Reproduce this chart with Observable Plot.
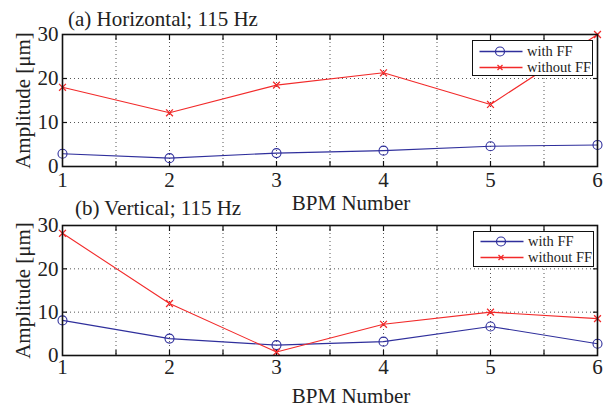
<!DOCTYPE html>
<html>
<head>
<meta charset="utf-8">
<script src="https://cdn.jsdelivr.net/npm/d3@7"></script>
<script src="https://cdn.jsdelivr.net/npm/@observablehq/plot@0.6"></script>
<style>
  html, body { margin: 0; padding: 0; background: #fff; }
  #root { position: relative; width: 607px; height: 408px; overflow: hidden; font-family: "Liberation Serif", "Times New Roman", serif; color: #222; }
  .abs { position: absolute; white-space: nowrap; }
  .title { font-size: 21px; line-height: 1; }
  .xlab { font-size: 21px; line-height: 1; }
  .legend { position: absolute; background: #fff; border: 1.5px solid #111; box-sizing: border-box; font-size: 14.5px; }
  .legend .row { position: absolute; left: 0; height: 13px; display: flex; align-items: center; }
  .legend .row span { display: inline-block; height: 13px; line-height: 13px; white-space: nowrap; }
  .legend svg { display: block; }
</style>
</head>
<body>
<div id="root"></div>
<script>
// ---- data ----
const bpm = [1, 2, 3, 4, 5, 6];
const seriesNames = ["with FF", "without FF"];
const seriesColors = ["#2f2f9c", "#f22a2a"];
const hWithFF = [2.9, 1.9, 3.05, 3.6, 4.6, 4.9];
const hWithoutFF = [18.0, 12.2, 18.5, 21.3, 14.1, 30.0];
const vWithFF = [8.1, 3.9, 2.4, 3.2, 6.7, 2.7];
const vWithoutFF = [28.2, 12.0, 0.8, 7.2, 10.0, 8.5];
const yTicks = [0, 10, 20, 30];
const xTicks = [1, 2, 3, 4, 5, 6];
const xHalfTicks = [1.5, 2, 2.5, 3, 3.5, 4, 4.5, 5, 5.5];
const titles = ["(a) Horizontal; 115 Hz", "(b) Vertical; 115 Hz"];
const xLabel = "BPM Number";
const yLabel = "Amplitude [μm]";

const root = document.getElementById("root");
const serif = "'Liberation Serif', 'Times New Roman', serif";

function panel(withFF, withoutFF, opts) {
  const rows = (vals, name) => bpm.map((b, i) => ({bpm: b, value: vals[i], series: name}));
  const dWith = rows(withFF, seriesNames[0]);
  const dWithout = rows(withoutFF, seriesNames[1]);
  return Plot.plot({
    width: 607,
    height: opts.height,
    marginTop: opts.marginTop,
    marginBottom: opts.marginBottom,
    marginLeft: 62,
    marginRight: 10,
    style: {fontFamily: serif, fontSize: "21px", background: "transparent", color: "#222", overflow: "visible"},
    x: {domain: [1, 6]},
    y: {domain: [0, 30]},
    marks: [
      Plot.gridX(xHalfTicks, {stroke: "#444", strokeOpacity: 0.9, strokeDasharray: "1,3"}),
      Plot.gridY([10, 20], {stroke: "#444", strokeOpacity: 0.9, strokeDasharray: "1,3"}),
      Plot.axisX({anchor: "bottom", ticks: xHalfTicks, tickSize: -5, tickFormat: () => "", label: null, stroke: "#111", strokeWidth: 1.2}),
      Plot.axisX({anchor: "top", ticks: xHalfTicks, tickSize: -5, tickFormat: () => "", label: null, stroke: "#111", strokeWidth: 1.2}),
      Plot.axisY({anchor: "right", ticks: [10, 20], tickSize: -5, tickFormat: () => "", label: null, stroke: "#111", strokeWidth: 1.2}),
      Plot.axisY({anchor: "left", ticks: [10, 20], tickSize: -5, tickFormat: () => "", label: null, stroke: "#111", strokeWidth: 1.2}),
      Plot.axisX({anchor: "bottom", ticks: xTicks, tickFormat: "d", tickSize: 0, tickPadding: opts.xPad, label: null, fontSize: 21}),
      Plot.axisY({anchor: "left", ticks: yTicks, tickFormat: "d", tickSize: 0, tickPadding: 4, label: yLabel, labelAnchor: "center", labelArrow: "none", labelOffset: 47, fontSize: 21}),
      Plot.line(dWith, {x: "bpm", y: "value", stroke: seriesColors[0], strokeWidth: 1.1}),
      Plot.line(dWithout, {x: "bpm", y: "value", stroke: seriesColors[1], strokeWidth: 1.1}),
      Plot.dot(dWith, {x: "bpm", y: "value", r: 4.5, stroke: seriesColors[0], fill: "none", strokeWidth: 1.1}),
      Plot.dot(dWithout, {x: "bpm", y: "value", symbol: "times", r: 3.2, stroke: seriesColors[1], strokeWidth: 1.3}),
      Plot.frame({stroke: "#111", strokeWidth: 1.6})
    ]
  });
}

function place(el, left, top) {
  el.style.position = "absolute";
  el.style.left = left + "px";
  el.style.top = top + "px";
  root.appendChild(el);
  return el;
}

function text(str, cls, left, top, center) {
  const d = document.createElement("div");
  d.className = "abs " + cls;
  d.textContent = str;
  root.appendChild(d);
  d.style.top = top + "px";
  d.style.left = left + "px";
  if (center) d.style.transform = "translateX(-50%)";
  return d;
}

function legend(left, top, rowTops) {
  const box = document.createElement("div");
  box.className = "legend";
  box.style.left = left + "px";
  box.style.top = top + "px";
  box.style.width = "121px";
  box.style.height = "36px";
  seriesNames.forEach((name, i) => {
    const row = document.createElement("div");
    row.className = "row";
    row.style.top = rowTops[i] + "px";
    const ns = "http://www.w3.org/2000/svg";
    const svg = document.createElementNS(ns, "svg");
    svg.setAttribute("width", "54");
    svg.setAttribute("height", "13");
    const line = document.createElementNS(ns, "line");
    line.setAttribute("x1", 6.5); line.setAttribute("x2", 49.5);
    line.setAttribute("y1", 6.5); line.setAttribute("y2", 6.5);
    line.setAttribute("stroke", seriesColors[i]); line.setAttribute("stroke-width", 1.3);
    svg.appendChild(line);
    if (i === 0) {
      const c = document.createElementNS(ns, "circle");
      c.setAttribute("cx", 27); c.setAttribute("cy", 6.5); c.setAttribute("r", 4.5);
      c.setAttribute("fill", "none"); c.setAttribute("stroke", seriesColors[i]); c.setAttribute("stroke-width", 1.2);
      svg.appendChild(c);
    } else {
      const p = document.createElementNS(ns, "path");
      p.setAttribute("d", "M24.5,4L29.5,9M29.5,4L24.5,9");
      p.setAttribute("stroke", seriesColors[i]); p.setAttribute("stroke-width", 1.3);
      svg.appendChild(p);
    }
    row.appendChild(svg);
    const t = document.createElement("span");
    t.textContent = name;
    row.appendChild(t);
    box.appendChild(row);
  });
  root.appendChild(box);
}

const p1 = panel(hWithFF, hWithoutFF, {height: 200, marginTop: 34, marginBottom: 34, xPad: 6});
place(p1, 0, 0);
const p2 = panel(vWithFF, vWithoutFF, {height: 208, marginTop: 25, marginBottom: 53, xPad: 4});
place(p2, 0, 200);

text(titles[0], "title", 68, 9, false);
text(titles[1], "title", 75, 198, false);
text(xLabel, "xlab", 351, 193, true);
text(xLabel, "xlab", 351, 386, true);

legend(472, 40, [4, 20]);
legend(473, 231, [3, 19]);
</script>
</body>
</html>
